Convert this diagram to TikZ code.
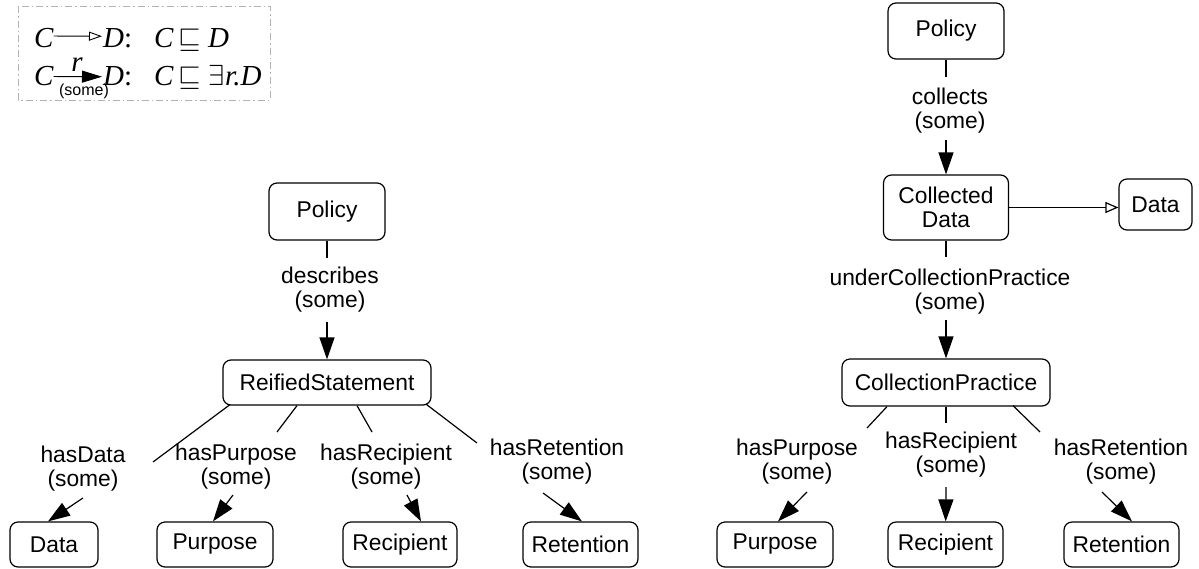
\RequirePackage{fix-cm}
\documentclass[tikz,border=0pt]{standalone}
\usepackage{fontspec}
\setmainfont{Liberation Sans}
\newfontfamily\serifit{Liberation Serif}
\usetikzlibrary{arrows.meta}
\newcommand\lblfont{\fontsize{22.8}{24}\selectfont}
\newcommand\keyfont{\fontsize{29}{29}\selectfont}
\begin{document}
\begin{tikzpicture}[x=1pt,y=-1pt,
  every node/.style={inner sep=0pt},
  cls/.style 2 args={draw, rounded corners=8pt, line width=1.2pt, align=center,
    minimum width=#1pt, minimum height=#2pt, font=\lblfont},
  rel/.style={font=\lblfont, align=center},
  link/.style={line width=1.2pt},
  some/.style={line width=1.2pt, -{Triangle[length=22pt,width=15pt]}},
  isa/.style={line width=1.2pt, -{Triangle[open,length=13pt,width=11pt,fill=white]}},
  keyframe/.style={draw=gray!60, line width=1pt, dash pattern=on 7pt off 3pt on 1.5pt off 3pt},
  keytext/.style={font=\keyfont\serifit\itshape}]
\useasboundingbox (0,0) rectangle (1199,568);

% ---- key ----
\draw[keyframe] (18,6) rectangle (270,100);
\node[keytext, anchor=base west] (kc1) at (34,47) {C};
\node[keytext, anchor=base west] (kd1) at (103,47) {D\upshape:};
\node[keytext, anchor=base west] (kf1) at (154,47) {C\kern5pt$\sqsubseteq$\kern7pt D};
\draw[line width=0.9pt, -{Triangle[open,length=13pt,width=9pt]}] ([yshift=1.5pt]kc1.east) -- ([yshift=1.5pt,xshift=-1pt]kd1.west);
\node[keytext, anchor=base west] (kc2) at (34,85) {C};
\node[keytext, anchor=base west] (kd2) at (103,85) {D\upshape:};
\node[keytext, anchor=base west] (kf2) at (154,85) {C\kern5pt$\sqsubseteq$\kern7pt$\exists$\kern1pt r.D};
\node[keytext, anchor=base] (kr) at (77,71) {r};
\node[font=\fontsize{16}{16}\selectfont] (ks) at (84,91) {(some)};
\draw[line width=0.9pt, -{Triangle[length=20pt,width=12pt]}] ([yshift=-1pt]kc2.east) -- ([yshift=-1pt,xshift=-1pt]kd2.west);

% ---- left tree ----
\node[cls={116}{57}] (pol1) at (327,211.5) {Policy};
\node[cls={208}{45}] (reif) at (327,382.5) {ReifiedStatement};
\node[cls={88}{45}]  (data1) at (54,544.5) {Data};
\node[cls={116}{45}] (purp1) at (215,544.5) {Purpose};
\node[cls={114}{45}] (reci1) at (400,544.5) {Recipient};
\node[cls={115}{45}] (rete1) at (580.5,544.5) {Retention};

\coordinate (d1) at (327,258); \coordinate (d2) at (327,322);
\draw[link] (pol1) -- (d1);
\node[rel] (ldesc) at (330,290) {describes\\(some)};
\draw[some] (d2) -- (reif);

\coordinate (hd1) at (153,462); \coordinate (hd2) at (83,498);
\draw[link] ([xshift=-97pt,yshift=1pt]reif.south) -- (hd1);
\node[rel] (lhd) at (83,469) {hasData\\(some)};
\draw[some] (hd2) -- ([xshift=-6pt]data1.north);

\coordinate (hp1) at (277,432); \coordinate (hp2) at (233,495);
\draw[link] ([xshift=-30pt]reif.south) -- (hp1);
\node[rel] (lhp) at (236,467) {hasPurpose\\(some)};
\draw[some] (hp2) -- ([xshift=-2pt]purp1.north);

\coordinate (hr1) at (372,432); \coordinate (hr2) at (407,495);
\draw[link] ([xshift=30pt]reif.south) -- (hr1);
\node[rel] (lhr) at (386,467) {hasRecipient\\(some)};
\draw[some] (hr2) -- ([xshift=21pt]reci1.north);

\coordinate (ht1) at (477,443); \coordinate (ht2) at (543,493);
\draw[link] ([xshift=99pt,yshift=1.5pt]reif.south) -- (ht1);
\node[rel] (lht) at (557,462) {hasRetention\\(some)};
\draw[some] (ht2) -- ([xshift=1.5pt]rete1.north);

% ---- right tree ----
\node[cls={116}{56}] (pol2) at (946,31) {Policy};
\node[cls={125}{65}] (cdat) at (946,207.5) {Collected\\Data};
\node[cls={73}{51}]  (data2) at (1155.5,204.5) {Data};
\node[cls={208}{47}] (cpra) at (946,382.5) {CollectionPractice};
\node[cls={116}{45}] (purp2) at (775,544.5) {Purpose};
\node[cls={115}{45}] (reci2) at (945.5,544.5) {Recipient};
\node[cls={115}{45}] (rete2) at (1121.5,544.5) {Retention};

\coordinate (c1) at (946,77); \coordinate (c2) at (946,140);
\draw[link] (pol2) -- (c1);
\node[rel] (lcol) at (950,110.5) {collects\\(some)};
\draw[some] (c2) -- (cdat);

\draw[isa] (cdat.east) -- (cdat.east -| data2.west);

\coordinate (u1) at (946,257); \coordinate (u2) at (946,320);
\draw[link] (cdat) -- (u1);
\node[rel] (lucp) at (950,291.5) {underCollectionPractice\\(some)};
\draw[some] (u2) -- (cpra);

\coordinate (rp1) at (867,428); \coordinate (rp2) at (807,492);
\draw[link] ([xshift=-59pt]cpra.south) -- (rp1);
\node[rel] (lrp) at (797,462) {hasPurpose\\(some)};
\draw[some] (rp2) -- ([xshift=3pt]purp2.north);

\coordinate (rr1) at (946,423); \coordinate (rr2) at (946,487);
\draw[link] (cpra) -- (rr1);
\node[rel] (lrr) at (951,455) {hasRecipient\\(some)};
\draw[some] (rr2) -- (reci2);

\coordinate (rt1) at (1040,432); \coordinate (rt2) at (1102,492);
\draw[link] ([xshift=67pt,yshift=1pt]cpra.south) -- (rt1);
\node[rel] (lrt) at (1121,461.5) {hasRetention\\(some)};
\draw[some] (rt2) -- ([xshift=10.5pt]rete2.north);
\end{tikzpicture}
\end{document}
